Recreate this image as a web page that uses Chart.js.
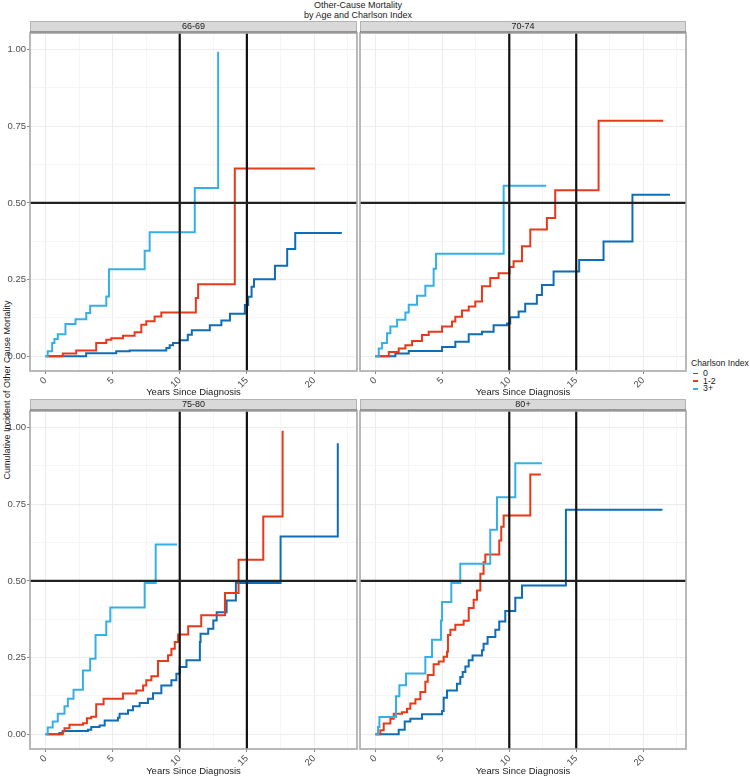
<!DOCTYPE html>
<html>
<head>
<meta charset="utf-8">
<script src="https://cdn.jsdelivr.net/npm/chart.js@4.4.1/dist/chart.umd.min.js"></script>
<style>
  body { margin: 0; background: #fff; width: 750px; height: 777px; position: relative; overflow: hidden;
         font-family: "Liberation Sans", Arial, sans-serif; color: #1a1a1a; }
  canvas { position: absolute; }
  #title { position: absolute; left: 258px; width: 200px; top: 1px; text-align: center; font-size: 9px; line-height: 9.5px; }
  #ylab { position: absolute; left: -143px; top: 384px; width: 300px; height: 12px; line-height: 12px; white-space: nowrap;
          text-align: center; font-size: 9px; transform: rotate(-90deg); transform-origin: 150px 6px; }
  #legend { position: absolute; left: 691px; top: 357px; font-size: 8.8px; line-height: 7.6px; white-space: nowrap; }
  #legend .ttl { font-size: 8.6px; line-height: 12px; margin-bottom: 1px; }
  #legend .it span { display: inline-block; width: 5px; height: 1.6px; vertical-align: middle; margin: 0 5px 0 2px; }
</style>
</head>
<body>
<div id="title">Other-Cause Mortality<br>by Age and Charlson Index</div>
<div id="ylab">Cumulative Incident of Other Cause Mortality</div>
<div id="legend"></div>
<canvas id="p1" width="358" height="398" style="left:0;top:0"></canvas>
<canvas id="p2" width="330" height="398" style="left:358px;top:0"></canvas>
<canvas id="p3" width="358" height="399" style="left:0;top:378px"></canvas>
<canvas id="p4" width="330" height="399" style="left:358px;top:378px"></canvas>
<script>
// facets and groups
const ageGroups = ['66-69', '70-74', '75-80', '80+'];
const charlson = ['0', '1-2', '3+'];
const groupColors = ['#0f6db5', '#e8391a', '#35b0e6'];

// axis breaks
const xBreaks = [0, 5, 10, 15, 20];
const xMinor = [2.5, 7.5, 12.5, 17.5, 22.5];
const yBreaks = [0, 0.25, 0.5, 0.75, 1];
const yMinor = [0.125, 0.375, 0.625, 0.875];

// reference lines
const refYears = [10, 15];
const refIncidence = 0.5;

// 66-69
const t_6669_c0 = [0, 3.03, 5.27, 6.27, 9.0, 9.25, 9.5, 10.0, 10.6, 10.9, 12.24, 13.1, 13.74, 14.85, 15.1, 15.35, 15.53, 17.09, 18.0, 18.6, 22.07];
const ci_6669_c0 = [0, 0.010, 0.016, 0.019, 0.027, 0.036, 0.043, 0.052, 0.07, 0.085, 0.101, 0.117, 0.139, 0.167, 0.194, 0.227, 0.251, 0.295, 0.35, 0.402, 0.402];
const t_6669_c1 = [0.1, 1.29, 2.29, 3.78, 4.53, 4.9, 5.77, 6.64, 7.14, 7.51, 8.13, 8.63, 11.2, 11.37, 14.1, 20.07];
const ci_6669_c1 = [0, 0.009, 0.019, 0.043, 0.054, 0.059, 0.067, 0.078, 0.103, 0.114, 0.13, 0.143, 0.19, 0.235, 0.612, 0.612];
const t_6669_c3 = [0, 0.17, 0.5, 0.67, 0.92, 1.49, 2.24, 3.04, 3.33, 4.53, 4.73, 7.39, 7.76, 11.12, 12.86];
const ci_6669_c3 = [0, 0.016, 0.043, 0.056, 0.072, 0.105, 0.121, 0.141, 0.165, 0.195, 0.284, 0.344, 0.404, 0.549, 0.993];

// 70-74
const t_7074_c0 = [0, 1.49, 2.49, 4.98, 5.97, 6.97, 7.96, 8.83, 9.83, 10.07, 10.7, 11.19, 12.06, 12.44, 13.31, 15.22, 17.04, 19.2, 22.0];
const ci_7074_c0 = [0, 0.009, 0.017, 0.03, 0.047, 0.072, 0.08, 0.101, 0.107, 0.127, 0.146, 0.171, 0.2, 0.232, 0.276, 0.314, 0.374, 0.527, 0.527];
const t_7074_c1 = [0, 1.0, 1.74, 2.24, 2.74, 3.48, 3.98, 4.98, 5.72, 5.97, 6.47, 6.97, 7.46, 7.96, 8.58, 9.2, 10.02, 10.32, 10.95, 11.57, 12.81, 13.43, 16.67, 21.5];
const ci_7074_c1 = [0, 0.014, 0.025, 0.036, 0.05, 0.069, 0.08, 0.097, 0.113, 0.129, 0.149, 0.162, 0.179, 0.228, 0.255, 0.271, 0.291, 0.31, 0.359, 0.413, 0.451, 0.541, 0.768, 0.768];
const t_7074_c3 = [0, 0.25, 0.5, 0.87, 1.12, 1.62, 2.24, 2.49, 3.11, 3.73, 4.35, 4.53, 9.58, 12.76];
const ci_7074_c3 = [0, 0.025, 0.043, 0.075, 0.097, 0.119, 0.143, 0.168, 0.197, 0.23, 0.285, 0.334, 0.556, 0.556];

// 75-80
const t_7580_c0 = [0, 1.04, 1.29, 3.16, 3.41, 4.03, 4.41, 5.4, 5.52, 6.15, 6.52, 7.02, 7.64, 8.01, 8.63, 9.38, 9.75, 10.0, 10.5, 11.5, 11.55, 12.12, 12.5, 12.75, 13.49, 14.18, 17.51, 21.77];
const ci_7580_c0 = [0, 0.004, 0.011, 0.015, 0.024, 0.029, 0.045, 0.054, 0.067, 0.078, 0.091, 0.102, 0.116, 0.134, 0.159, 0.176, 0.197, 0.219, 0.241, 0.301, 0.328, 0.344, 0.371, 0.398, 0.436, 0.493, 0.645, 0.949];
const t_7580_c1 = [0.1, 1.29, 1.42, 1.79, 2.79, 3.09, 3.41, 3.78, 4.33, 5.77, 6.77, 7.27, 7.51, 7.89, 8.38, 9.13, 9.38, 9.63, 9.88, 10.63, 11.6, 13.37, 14.38, 16.22, 17.66];
const ci_7580_c1 = [0, 0.01, 0.02, 0.031, 0.036, 0.052, 0.057, 0.098, 0.116, 0.133, 0.143, 0.159, 0.176, 0.189, 0.239, 0.258, 0.279, 0.301, 0.325, 0.352, 0.388, 0.461, 0.569, 0.71, 0.99];
const t_7580_c3 = [0, 0.17, 0.54, 0.92, 1.42, 1.67, 2.09, 2.79, 3.33, 3.73, 4.53, 4.83, 7.39, 8.21, 9.8];
const ci_7580_c3 = [0, 0.022, 0.042, 0.067, 0.091, 0.116, 0.145, 0.208, 0.246, 0.324, 0.368, 0.413, 0.493, 0.619, 0.619];

// 80+
const t_80_c0 = [0, 1.74, 2.19, 2.61, 3.48, 4.98, 5.1, 5.35, 6.09, 6.34, 6.52, 6.72, 6.97, 7.26, 7.96, 8.08, 8.38, 8.96, 9.25, 9.7, 10.45, 10.95, 14.23, 21.44];
const ci_80_c0 = [0, 0.015, 0.042, 0.051, 0.065, 0.076, 0.119, 0.143, 0.165, 0.187, 0.203, 0.221, 0.241, 0.257, 0.274, 0.295, 0.317, 0.341, 0.368, 0.402, 0.445, 0.485, 0.732, 0.732];
const t_80_c1 = [0, 0.37, 0.62, 1.12, 1.37, 1.99, 2.36, 2.61, 2.99, 3.36, 3.73, 3.91, 4.35, 4.73, 5.1, 5.35, 5.42, 5.6, 5.97, 6.59, 6.97, 7.34, 7.59, 7.84, 8.08, 8.21, 9.25, 9.4, 9.58, 11.57, 12.36];
const ci_80_c1 = [0, 0.013, 0.035, 0.051, 0.067, 0.072, 0.083, 0.1, 0.114, 0.138, 0.171, 0.193, 0.228, 0.237, 0.253, 0.269, 0.324, 0.341, 0.357, 0.37, 0.412, 0.439, 0.469, 0.523, 0.561, 0.586, 0.632, 0.677, 0.713, 0.847, 0.847];
const t_80_c3 = [0, 0.2, 0.3, 1.54, 1.79, 2.29, 3.73, 4.23, 4.9, 4.98, 5.67, 6.34, 8.58, 9.08, 10.45, 12.44];
const ci_80_c3 = [0, 0.024, 0.056, 0.124, 0.16, 0.198, 0.252, 0.308, 0.371, 0.431, 0.493, 0.556, 0.667, 0.773, 0.884, 0.884];

const panelSeries = [
  [[t_6669_c0, ci_6669_c0], [t_6669_c1, ci_6669_c1], [t_6669_c3, ci_6669_c3]],
  [[t_7074_c0, ci_7074_c0], [t_7074_c1, ci_7074_c1], [t_7074_c3, ci_7074_c3]],
  [[t_7580_c0, ci_7580_c0], [t_7580_c1, ci_7580_c1], [t_7580_c3, ci_7580_c3]],
  [[t_80_c0, ci_80_c0], [t_80_c1, ci_80_c1], [t_80_c3, ci_80_c3]]
];

Chart.defaults.font.family = '"Liberation Sans", Arial, sans-serif';
Chart.defaults.font.size = 9;

// strip on top, black reference lines and grey frame
const facetFrame = {
  id: 'facetFrame',
  beforeDraw(chart, args, opts) {
    const ctx = chart.ctx, a = chart.chartArea;
    ctx.save();
    ctx.fillStyle = '#d9d9d9';
    ctx.fillRect(a.left, a.top - 12, a.right - a.left, 12);
    ctx.strokeStyle = '#b3b3b3';
    ctx.lineWidth = 1;
    ctx.strokeRect(a.left + 0.5, a.top - 11.5, a.right - a.left - 1, 11);
    ctx.strokeStyle = '#555';
    ctx.lineWidth = 1.5;
    ctx.beginPath();
    ctx.moveTo(a.left, a.top - 0.75);
    ctx.lineTo(a.right, a.top - 0.75);
    ctx.stroke();
    ctx.fillStyle = '#1a1a1a';
    ctx.font = '9px "Liberation Sans", Arial, sans-serif';
    ctx.textAlign = 'center';
    ctx.textBaseline = 'middle';
    ctx.fillText(opts.label, (a.left + a.right) / 2, a.top - 6);
    ctx.restore();
  },
  afterDatasetsDraw(chart, args, opts) {
    const ctx = chart.ctx, a = chart.chartArea;
    const xs = chart.scales.x, ys = chart.scales.y;
    ctx.save();
    ctx.strokeStyle = '#111';
    ctx.lineWidth = 2.2;
    refYears.forEach(v => {
      const px = xs.getPixelForValue(v);
      ctx.beginPath();
      ctx.moveTo(px, a.top);
      ctx.lineTo(px, a.bottom);
      ctx.stroke();
    });
    const py = ys.getPixelForValue(refIncidence);
    ctx.strokeStyle = '#222';
    ctx.lineWidth = 2.4;
    ctx.beginPath();
    ctx.moveTo(a.left, py);
    ctx.lineTo(a.right, py);
    ctx.stroke();
    ctx.strokeStyle = '#a8a8a8';
    ctx.lineWidth = 1.6;
    ctx.strokeRect(a.left, a.top, a.right - a.left, a.bottom - a.top);
    ctx.restore();
  }
};

function tickList(major, minor) {
  return major.concat(minor).sort((p, q) => p - q).map(v => ({ value: v }));
}

function makePanel(id, idx, showY, padTop, padRight, xHeight) {
  const datasets = panelSeries[idx].map((s, g) => ({
    label: charlson[g],
    data: s[0].map((t, i) => ({ x: t, y: s[1][i] })),
    borderColor: groupColors[g],
    borderWidth: 2,
    pointRadius: 0,
    stepped: 'before',
    fill: false,
    order: 3 - g
  }));
  new Chart(document.getElementById(id), {
    type: 'line',
    data: { datasets },
    plugins: [facetFrame],
    options: {
      responsive: false,
      animation: false,
      devicePixelRatio: 1,
      events: [],
      layout: { padding: { left: 0, top: padTop, right: padRight, bottom: 0 } },
      plugins: {
        legend: { display: false },
        tooltip: { enabled: false },
        facetFrame: { label: ageGroups[idx] }
      },
      scales: {
        x: {
          type: 'linear',
          min: -1.15,
          max: 23.2,
          afterBuildTicks: s => { s.ticks = tickList(xBreaks, xMinor); },
          afterFit: s => { s.height = xHeight; },
          ticks: {
            autoSkip: false,
            minRotation: 45,
            maxRotation: 45,
            padding: 1,
            color: '#4d4d4d',
            font: { size: 9.5 },
            callback: v => (xBreaks.includes(v) ? String(v) : '')
          },
          grid: {
            color: c => (c.tick && xBreaks.includes(c.tick.value) ? '#ececec' : '#f5f5f5'),
            tickColor: c => (c.tick && xBreaks.includes(c.tick.value) ? '#888' : 'rgba(0,0,0,0)'),
            tickLength: 3,
            lineWidth: 1
          },
          border: { display: false },
          title: { display: true, text: 'Years Since Diagnosis', color: '#1a1a1a', font: { size: 9.5 }, padding: { top: 0, bottom: 0 } }
        },
        y: {
          type: 'linear',
          min: -0.048,
          max: 1.054,
          afterBuildTicks: s => { s.ticks = tickList(yBreaks, yMinor); },
          afterFit: s => { s.width = showY ? 30 : 2; },
          ticks: {
            display: showY,
            autoSkip: false,
            padding: 1,
            color: '#4d4d4d',
            font: { size: 9.5 },
            callback: v => (yBreaks.includes(v) ? v.toFixed(2) : '')
          },
          grid: {
            color: c => (c.tick && yBreaks.includes(c.tick.value) ? '#ececec' : '#f5f5f5'),
            tickColor: c => (showY && c.tick && yBreaks.includes(c.tick.value) ? '#888' : 'rgba(0,0,0,0)'),
            tickLength: 3,
            lineWidth: 1
          },
          border: { display: false }
        }
      }
    }
  });
}

makePanel('p1', 0, true, 33, 1, 27);
makePanel('p2', 1, false, 33, 2, 27);
makePanel('p3', 2, true, 33, 1, 28);
makePanel('p4', 3, false, 33, 2, 28);

// legend
const legendEl = document.getElementById('legend');
legendEl.innerHTML = '<div class="ttl">Charlson Index</div>' +
  charlson.map((c, i) => '<div class="it"><span style="background:' + groupColors[i] + '"></span>' + c + '</div>').join('');
</script>
</body>
</html>
